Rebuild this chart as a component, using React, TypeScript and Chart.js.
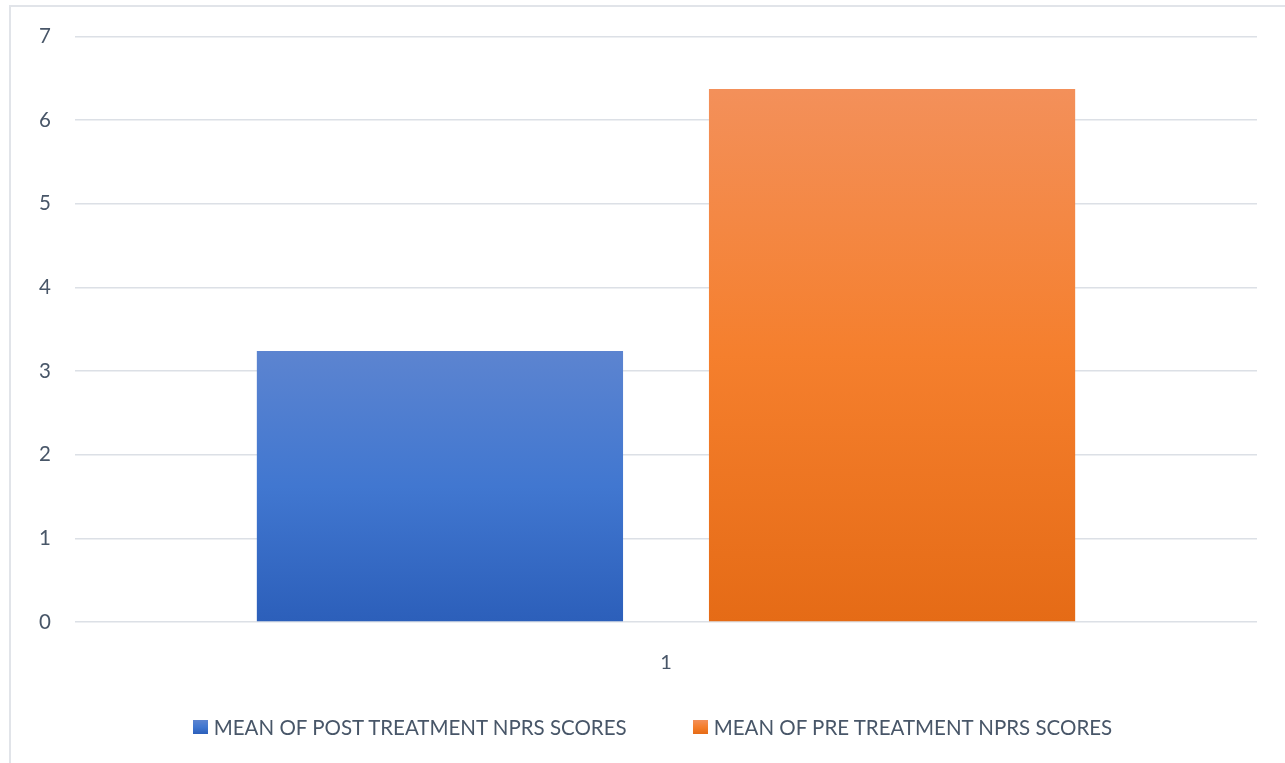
import React, { useEffect, useRef } from "react";
import { Chart, registerables } from "chart.js";

Chart.register(...registerables);

const categories = ["1"];
const postLabel = "MEAN OF POST TREATMENT NPRS SCORES";
const preLabel = "MEAN OF PRE TREATMENT NPRS SCORES";
const postValues = [3.24];
const preValues = [6.37];
const yMin = 0;
const yMax = 7;
const yStep = 1;

const blueStops = ["#5C84D0", "#4177D0", "#2C5FBA"];
const orangeStops = ["#F3905A", "#F57F2D", "#E56B16"];

const textColor = "#485668";
const fontFamily = "Lato, 'Noto Sans', sans-serif";

function gradientFill(stops: string[]) {
  return (ctx: any) => {
    const chart = ctx.chart;
    const yScale = chart.scales && chart.scales.y;
    if (!yScale || !chart.chartArea || ctx.raw == null) return stops[1];
    const a = yScale.getPixelForValue(ctx.raw);
    const b = yScale.getPixelForValue(0);
    const top = Math.min(a, b);
    const bottom = Math.max(a, b);
    if (!isFinite(top) || !isFinite(bottom) || bottom - top < 1) return stops[1];
    const g = chart.ctx.createLinearGradient(0, top, 0, bottom);
    g.addColorStop(0, stops[0]);
    g.addColorStop(0.5, stops[1]);
    g.addColorStop(1, stops[2]);
    return g;
  };
}

function Legend() {
  const item = (stops: string[], label: string) => (
    <div style={{ display: "flex", alignItems: "center" }}>
      <span
        style={{
          display: "inline-block",
          width: 15,
          height: 14,
          background: `linear-gradient(${stops[0]}, ${stops[1]}, ${stops[2]})`,
          marginRight: 6,
        }}
      />
      <span style={{ fontSize: 20.5, color: textColor, fontFamily, lineHeight: "20px", whiteSpace: "nowrap" }}>{label}</span>
    </div>
  );
  return (
    <div
      style={{
        position: "absolute",
        left: 0,
        top: 717,
        width: 1305,
        display: "flex",
        justifyContent: "center",
        gap: 66,
      }}
    >
      {item(blueStops, postLabel)}
      {item(orangeStops, preLabel)}
    </div>
  );
}

export default function App() {
  const ref = useRef<HTMLCanvasElement>(null);

  useEffect(() => {
    if (!ref.current) return;
    const chart = new Chart(ref.current, {
      type: "bar",
      data: {
        labels: categories,
        datasets: [
          {
            label: postLabel,
            data: postValues,
            backgroundColor: gradientFill(blueStops),
            borderWidth: 0,
          },
          {
            label: preLabel,
            data: preValues,
            backgroundColor: gradientFill(orangeStops),
            borderWidth: 0,
          },
        ],
      },
      options: {
        animation: false,
        responsive: false,
        maintainAspectRatio: false,
        categoryPercentage: 0.765,
        barPercentage: 0.81,
        layout: { padding: { left: 0, right: 28, top: 36, bottom: 81 } },
        plugins: {
          legend: { display: false },
          tooltip: { enabled: false },
        },
        scales: {
          x: {
            grid: { display: false, drawTicks: false },
            border: { display: false },
            ticks: { color: textColor, font: { family: fontFamily, size: 20 }, padding: 29 },
            afterFit: (s: any) => {
              s.height = 60;
            },
          },
          y: {
            min: yMin,
            max: yMax,
            ticks: {
              stepSize: yStep,
              color: textColor,
              font: { family: fontFamily, size: 20.5 },
              padding: 24,
            },
            grid: { color: "#DCE0E6", lineWidth: 1.5, drawTicks: false },
            border: { display: false },
            afterFit: (s: any) => {
              s.width = 75;
            },
          },
        },
      },
    });
    return () => chart.destroy();
  }, []);

  return (
    <div style={{ position: "absolute", left: 0, top: 0, width: 1285, height: 763, overflow: "hidden", background: "#fff" }}>
      <div
        style={{
          position: "absolute",
          left: 9,
          top: 5,
          width: 1300,
          height: 800,
          border: "2px solid #E1E4E9",
          boxSizing: "border-box",
        }}
      />
      <canvas ref={ref} width={1285} height={763} style={{ position: "absolute", left: 0, top: 0 }} />
      <Legend />
    </div>
  );
}
